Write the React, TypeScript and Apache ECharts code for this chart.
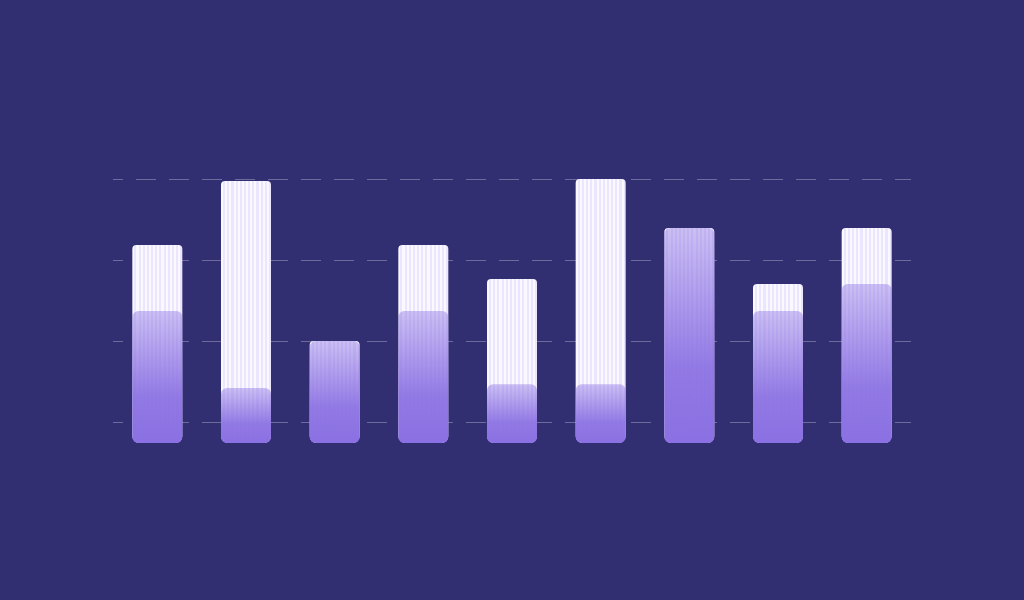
import React, { useEffect, useRef } from "react";
import * as echarts from "echarts";

const categories = ["A", "B", "C", "D", "E", "F", "G", "H", "I"];
const totalValues = [75, 99.2, 38.6, 75, 62.1, 100, 81.4, 60.2, 81.4];
const partValues = [50, 20.8, 38.6, 50, 22.3, 22.3, 81.4, 50, 60.2];

const BG = "#312e72";
const PURPLE = "138,112,226";

function stripeGradient() {
  const n = 12;
  const stops: { offset: number; color: string }[] = [];
  for (let i = 0; i < n; i++) {
    const a = i / n;
    const m = (i + 0.5) / n;
    const b = (i + 1) / n;
    stops.push({ offset: a, color: "#faf9ff" });
    stops.push({ offset: m, color: "#faf9ff" });
    stops.push({ offset: m, color: "#ebe6fd" });
    stops.push({ offset: b, color: "#ebe6fd" });
  }
  return new echarts.graphic.LinearGradient(0, 0, 1, 0, stops);
}

export default function App() {
  const ref = useRef<HTMLDivElement>(null);
  useEffect(() => {
    document.body.style.margin = "0";
    document.body.style.background = BG;
    const chart = echarts.init(ref.current!, null, { renderer: "svg" });
    chart.setOption({
      animation: false,
      backgroundColor: BG,
      grid: { left: 113, right: 113, top: 179, bottom: 97 },
      xAxis: {
        type: "category",
        data: categories,
        axisLine: { show: false },
        axisTick: { show: false },
        axisLabel: { show: false },
        splitLine: { show: false },
      },
      yAxis: [
        {
          type: "value",
          min: -(60 / 264) * 100,
          max: 100,
          axisLine: { show: false },
          axisTick: { show: false },
          axisLabel: { show: false },
          splitLine: { show: false },
        },
        {
          type: "value",
          min: 0,
          max: 4,
          interval: 1,
          axisLine: { show: false },
          axisTick: { show: false },
          axisLabel: { show: false },
          splitLine: {
            show: true,
            showMinLine: false,
            lineStyle: {
              color: "rgba(150,148,185,0.6)",
              width: 1,
              type: [20, 13],
              dashOffset: 10,
            },
          },
        },
      ],
      series: [
        {
          type: "bar",
          data: totalValues,
          barWidth: 50,
          barGap: "-100%",
          yAxisIndex: 0,
          itemStyle: {
            color: stripeGradient(),
            borderRadius: [4, 4, 7, 7],
          },
        },
        {
          type: "bar",
          data: partValues,
          barWidth: 50,
          barGap: "-100%",
          yAxisIndex: 0,
          itemStyle: {
            borderRadius: 6,
            color: new echarts.graphic.LinearGradient(0, 0, 0, 1, [
              { offset: 0, color: `rgba(${PURPLE},0.42)` },
              { offset: 0.65, color: `rgba(${PURPLE},0.93)` },
              { offset: 1, color: `rgba(${PURPLE},1)` },
            ]),
          },
        },
      ],
    });
    return () => chart.dispose();
  }, []);
  return <div ref={ref} style={{ width: 1024, height: 600 }} />;
}
